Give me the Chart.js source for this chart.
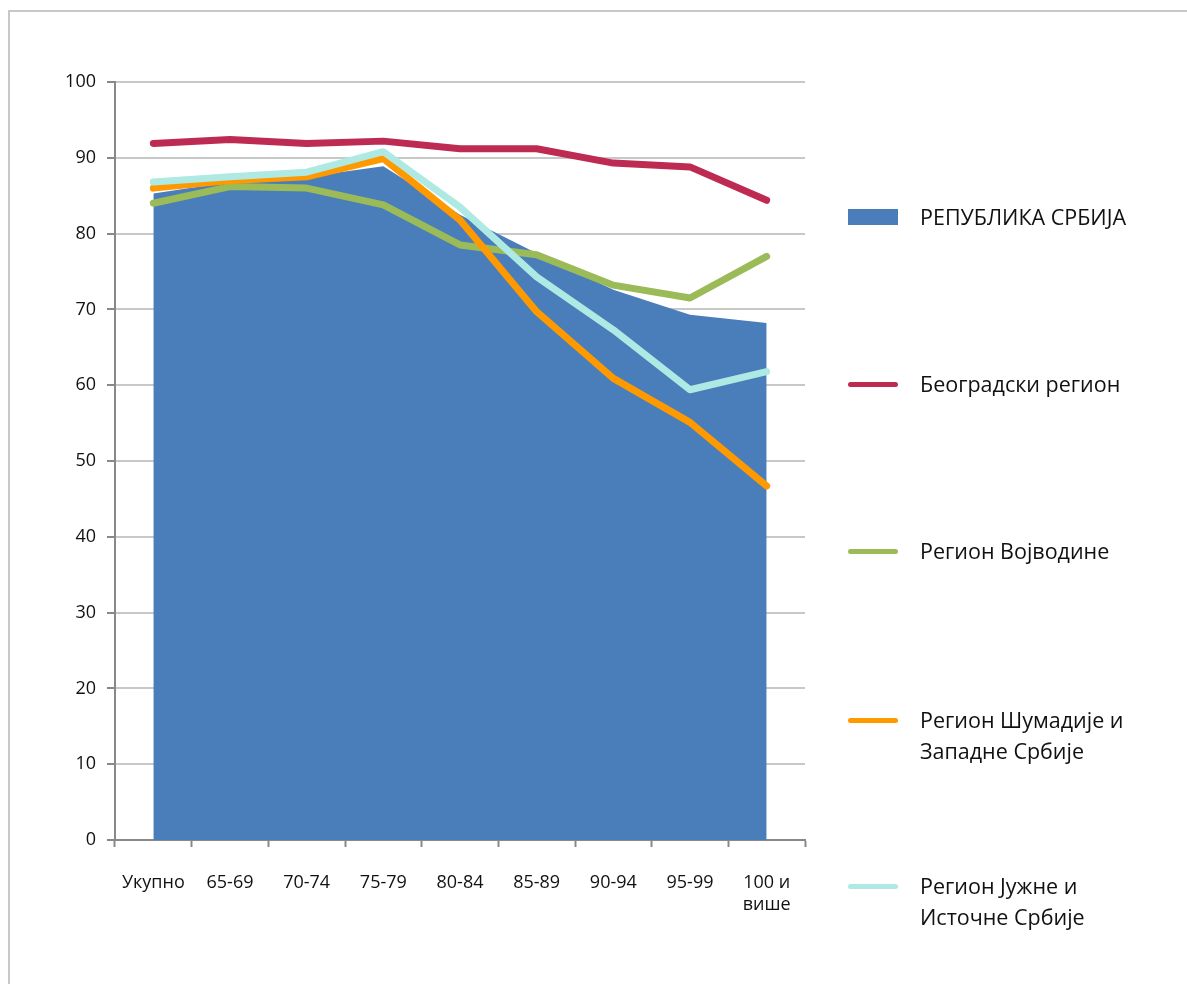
<!DOCTYPE html>
<html>
<head>
<meta charset="utf-8">
<script src="https://cdn.jsdelivr.net/npm/chart.js@4/dist/chart.umd.min.js"></script>
<style>
  html, body { margin: 0; padding: 0; background: #fff; }
  body { width: 1187px; height: 984px; position: relative; overflow: hidden; font-family: "Open Sans", sans-serif; }
  #frame { position: absolute; left: 8px; top: 10px; width: 1200px; height: 1000px; border: 2px solid #c8c8c8; box-sizing: border-box; }
  #wrap { position: absolute; left: 0; top: 0; width: 1187px; height: 984px; }
  #legend { position: absolute; left: 848px; top: 0; }
  .item { position: absolute; left: 0; width: 330px; }
  .sw { position: absolute; left: 0; width: 50px; }
  .txt { position: absolute; left: 72px; font-size: 21.5px; line-height: 31px; color: #111; white-space: nowrap; }
</style>
</head>
<body>
<div id="frame"></div>
<div id="wrap"><canvas id="chart"></canvas></div>
<div id="legend"></div>
<script>
const categories = ['Укупно', '65-69', '70-74', '75-79', '80-84', '85-89', '90-94', '95-99', ['100 и', 'више']];

const srbija     = [85.3, 86.8, 87.5, 88.9, 82.5, 77.4, 72.6, 69.3, 68.2];
const beograd    = [91.9, 92.4, 91.9, 92.2, 91.2, 91.2, 89.3, 88.8, 84.4];
const vojvodina  = [84.0, 86.2, 86.0, 83.8, 78.5, 77.2, 73.2, 71.5, 77.0];
const sumadija   = [86.0, 87.0, 87.5, 89.9, 81.8, 69.7, 60.9, 55.1, 46.7];
const jug        = [86.8, 87.5, 88.1, 90.8, 83.5, 74.3, 67.3, 59.4, 61.8];

const seriesNames = [
  ['РЕПУБЛИКА СРБИЈА'],
  ['Београдски регион'],
  ['Регион Војводине'],
  ['Регион Шумадије и', 'Западне Србије'],
  ['Регион Јужне и', 'Источне Србије']
];
const colors = ['#4a7ebb', '#be2b52', '#9bbb59', '#ff9900', '#aeeae3'];

function lineSet(i, data) {
  return {
    label: seriesNames[i].join(' '),
    data: data,
    borderColor: colors[i],
    backgroundColor: colors[i],
    borderWidth: 7,
    pointRadius: 0,
    borderCapStyle: 'round',
    borderJoinStyle: 'round',
    fill: false,
    tension: 0,
    order: 5 - i
  };
}

const canvas = document.getElementById('chart');
canvas.width = 1187; canvas.height = 984;
const chart = new Chart(canvas.getContext('2d'), {
  type: 'line',
  data: {
    labels: categories,
    datasets: [
      {
        label: seriesNames[0][0],
        data: srbija,
        borderWidth: 0,
        borderColor: colors[0],
        backgroundColor: colors[0],
        pointRadius: 0,
        fill: 'origin',
        tension: 0,
        order: 6
      },
      lineSet(1, beograd),
      lineSet(2, vojvodina),
      lineSet(3, sumadija),
      lineSet(4, jug)
    ]
  },
  options: {
    responsive: false,
    animation: false,
    devicePixelRatio: 1,
    layout: { padding: { left: 0, right: 382, top: 82, bottom: 0 } },
    plugins: { legend: { display: false }, tooltip: { enabled: false } },
    scales: {
      x: {
        offset: true,
        grid: { offset: true, drawOnChartArea: false, drawTicks: true, tickLength: 7, tickColor: '#888', tickWidth: 2 },
        border: { color: '#888', width: 2 },
        ticks: { color: '#111', font: { family: 'Open Sans', size: 18 }, padding: 25, maxRotation: 0, autoSkip: false, lineHeight: 1.1 },
        afterFit: s => { s.height = 984 - 840; }
      },
      y: {
        min: 0, max: 100,
        grid: { color: '#c8c8c8', lineWidth: 2, tickLength: 8, tickColor: '#888', tickWidth: 2 },
        border: { color: '#888', width: 2 },
        ticks: { stepSize: 10, color: '#111', font: { family: 'Open Sans', size: 18 }, padding: 11 },
        afterFit: s => { s.width = 115; }
      }
    }
  }
});

// legend on the right, built from the series names and colours
const legend = document.getElementById('legend');
const legendTop = [217, 384, 551, 720, 886];
seriesNames.forEach((name, i) => {
  const item = document.createElement('div');
  item.className = 'item';
  item.style.top = legendTop[i] + 'px';
  const sw = document.createElement('div');
  sw.className = 'sw';
  sw.style.background = colors[i];
  if (i === 0) { sw.style.height = '16px'; sw.style.top = '-8px'; }
  else { sw.style.height = '5px'; sw.style.top = '-2px'; sw.style.borderRadius = '3px'; }
  item.appendChild(sw);
  const txt = document.createElement('div');
  txt.className = 'txt';
  txt.style.top = '-16px';
  txt.innerHTML = name.join('<br>');
  item.appendChild(txt);
  legend.appendChild(item);
});
</script>
</body>
</html>
